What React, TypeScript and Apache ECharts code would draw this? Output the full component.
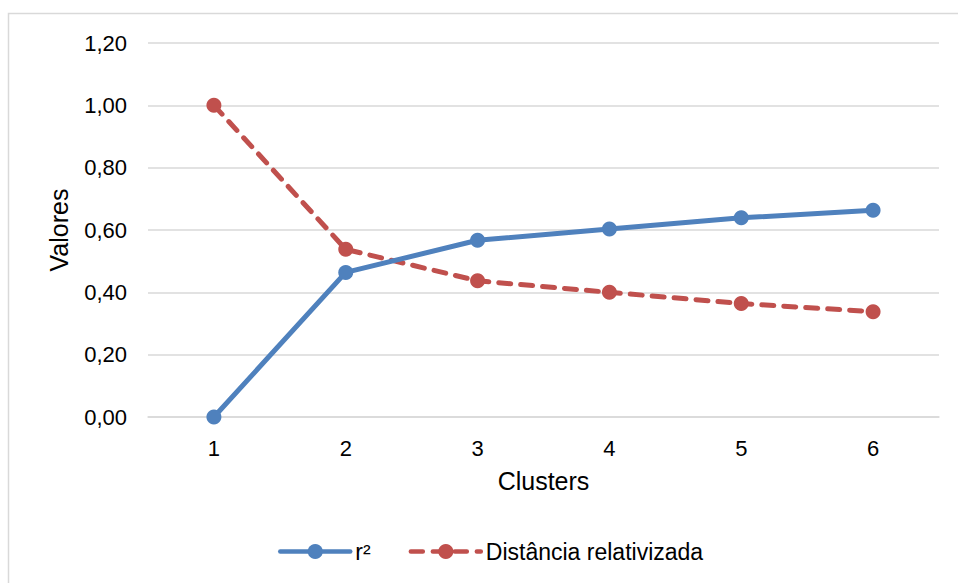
import React, { useEffect, useRef } from "react";
import * as echarts from "echarts";

const categories = ["1", "2", "3", "4", "5", "6"];
const r2Values = [0, 0.464, 0.567, 0.603, 0.639, 0.663];
const distValues = [1.0, 0.538, 0.437, 0.4, 0.364, 0.338];
const seriesNames = ["r²", "Distância relativizada"];
const xAxisName = "Clusters";
const yAxisName = "Valores";

const FONT = "'Liberation Sans', Arial, sans-serif";

export default function App() {
  const ref = useRef<HTMLDivElement>(null);
  useEffect(() => {
    if (!ref.current) return;
    const chart = echarts.init(ref.current, undefined, { renderer: "svg" });
    chart.setOption({
      animation: false,
      backgroundColor: "#ffffff",
      textStyle: { fontFamily: FONT, color: "#000" },
      graphic: [
        {
          type: "rect",
          shape: { x: 8.5, y: 13.5, width: 1200, height: 1200 },
          style: { fill: "none", stroke: "#d9d9d9", lineWidth: 1.5 },
          silent: true,
          z: -10,
        },
      ],
      grid: { left: 148, right: 19, top: 43, bottom: 166, containLabel: false },
      legend: {
        left: 273,
        top: 535,
        itemWidth: 70,
        itemHeight: 19,
        itemGap: 38,
        lineStyle: { width: 4.5, cap: "round" },
        textStyle: { fontFamily: FONT, fontSize: 23, color: "#000" },
        data: seriesNames,
      },
      xAxis: {
        type: "category",
        data: categories,
        boundaryGap: true,
        name: xAxisName,
        nameLocation: "middle",
        nameGap: 51,
        nameTextStyle: { fontFamily: FONT, fontSize: 25, color: "#000" },
        axisLine: { show: true, lineStyle: { color: "#d9d9d9", width: 1.5 } },
        axisTick: { show: false },
        axisLabel: { fontFamily: FONT, fontSize: 22, color: "#000", margin: 20 },
      },
      yAxis: {
        type: "value",
        min: 0,
        max: 1.2,
        interval: 0.2,
        name: yAxisName,
        nameLocation: "middle",
        nameGap: 77,
        nameTextStyle: { fontFamily: FONT, fontSize: 25, color: "#000" },
        axisLine: { show: false },
        axisTick: { show: false },
        splitLine: { lineStyle: { color: "#d9d9d9", width: 1.5 } },
        axisLabel: {
          fontFamily: FONT,
          fontSize: 22,
          color: "#000",
          margin: 21,
          formatter: (v: number) => v.toFixed(2).replace(".", ","),
        },
      },
      series: [
        {
          name: seriesNames[0],
          type: "line",
          data: r2Values,
          symbol: "circle",
          symbolSize: 15,
          color: "#4f81bd",
          lineStyle: { color: "#4f81bd", width: 5, cap: "round", join: "round" },
          itemStyle: { color: "#4f81bd" },
          z: 3,
        },
        {
          name: seriesNames[1],
          type: "line",
          data: distValues,
          symbol: "circle",
          symbolSize: 15,
          color: "#c0504d",
          lineStyle: {
            color: "#c0504d",
            width: 5,
            type: [12, 10],
            cap: "round",
            join: "round",
          },
          itemStyle: { color: "#c0504d" },
          z: 2,
        },
      ],
    });
    return () => chart.dispose();
  }, []);
  return (
    <div
      ref={ref}
      style={{ position: "fixed", left: 0, top: 0, width: 958, height: 583 }}
    />
  );
}
